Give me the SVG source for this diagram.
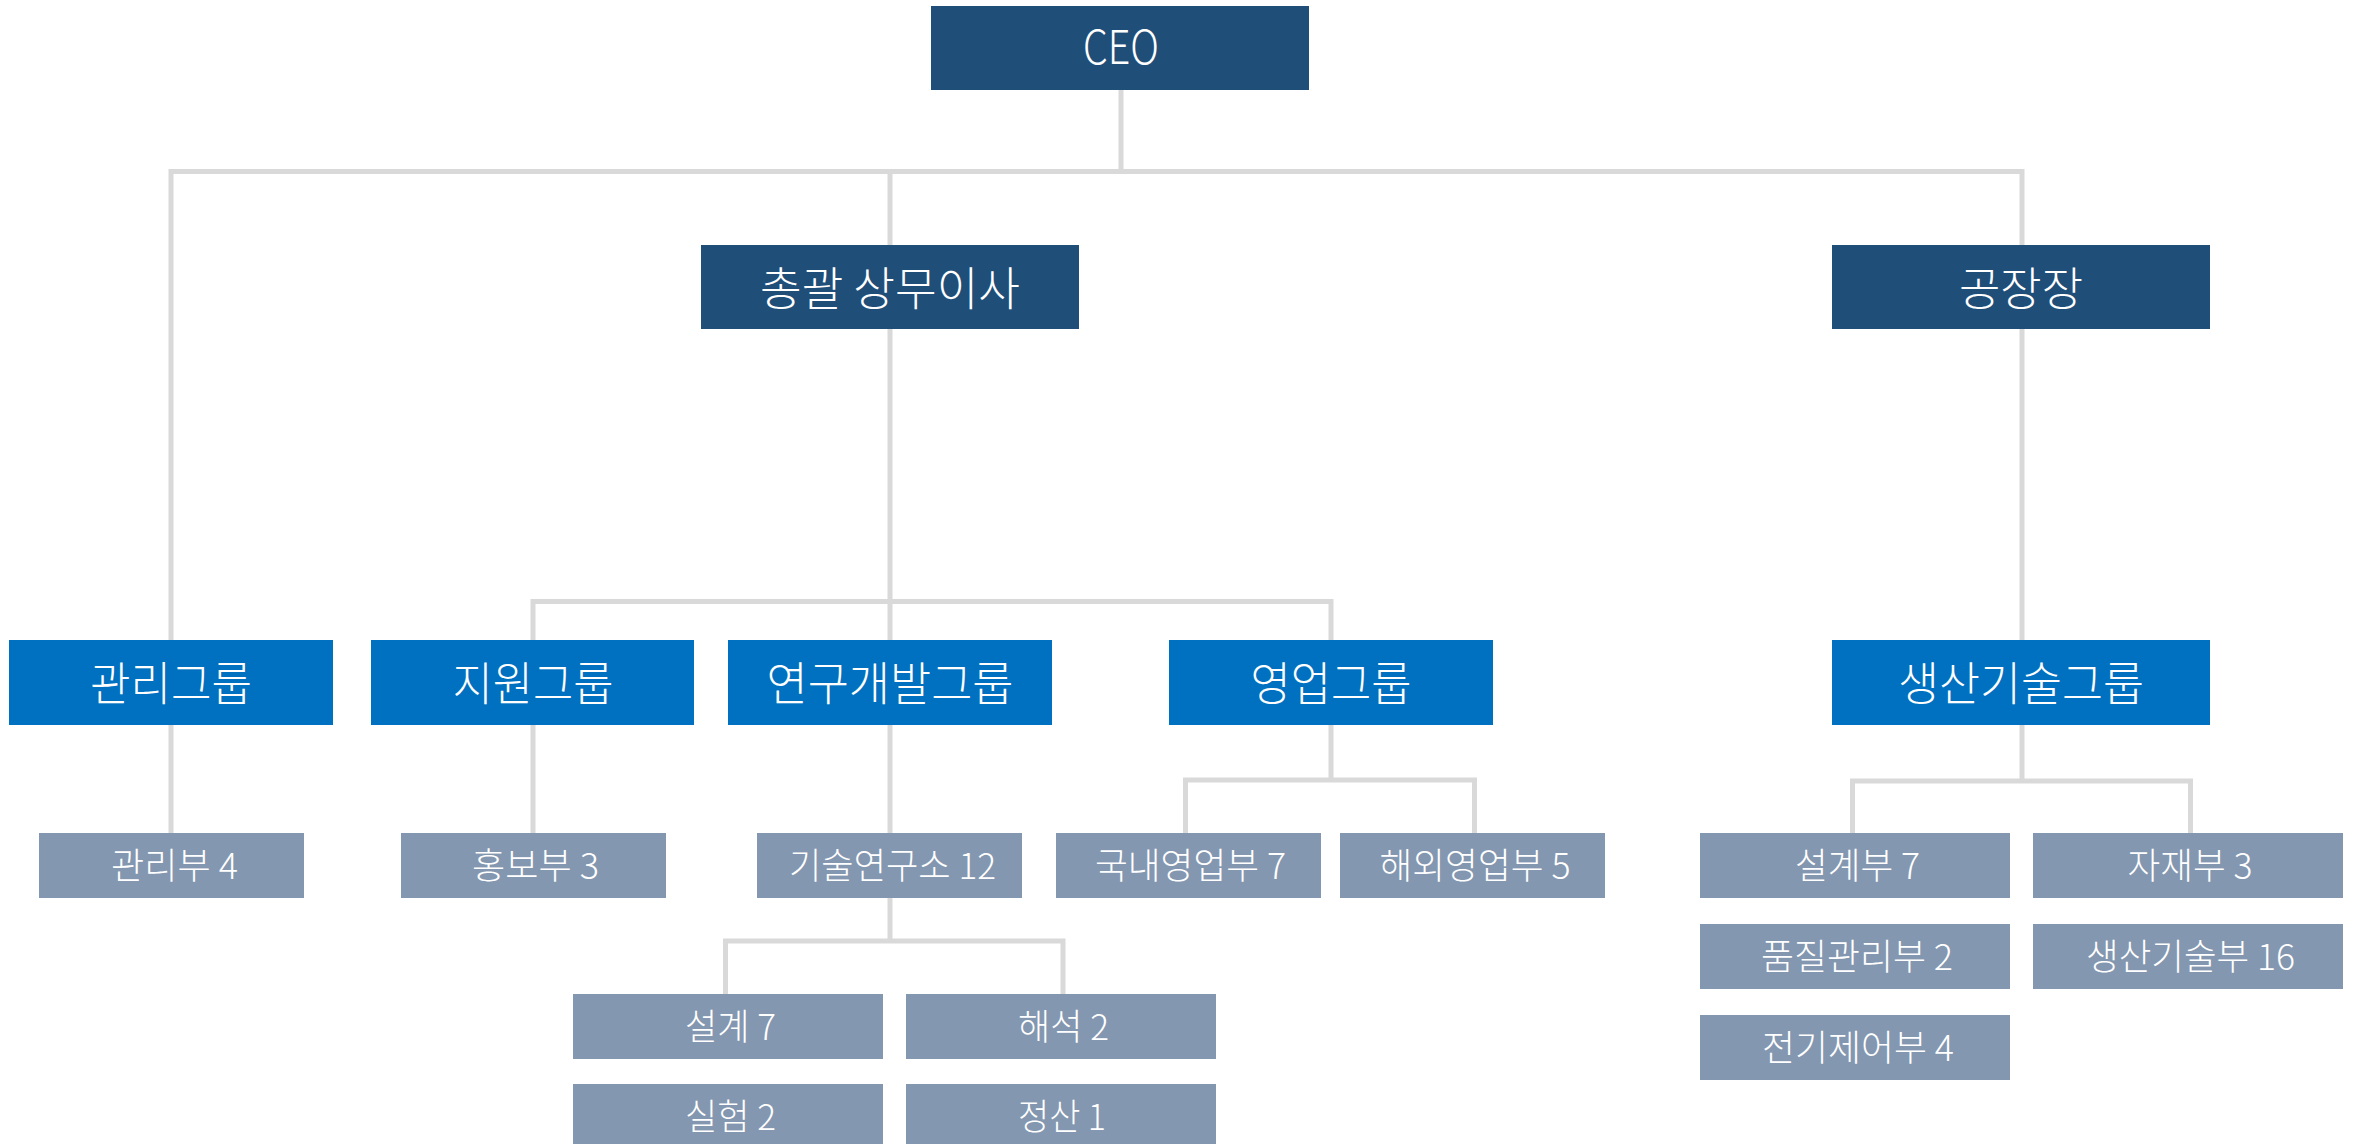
<svg xmlns="http://www.w3.org/2000/svg" width="2356" height="1144" viewBox="0 0 2356 1144">
<style>
.exec{fill:#1F4E79}
.grp{fill:#0070C0}
.dept{fill:#8497B0}
.lb{fill:#FFFFFF;font-family:"Noto Sans CJK KR","Noto Sans",sans-serif;text-anchor:middle;font-weight:300}
.big{font-size:46px}
.sm{font-size:36px}
.conn path{fill:none;stroke:#D9D9D9;stroke-width:5;stroke-linejoin:miter;stroke-linecap:butt}
</style>
<rect width="2356" height="1144" fill="#FFFFFF"/>
<g class="conn" id="connectors">
<path d="M1121 90 V171.5"/>
<path d="M171 640 V171.5 H2022 V245"/>
<path d="M890 171.5 V245"/>
<path d="M890 329 V640"/>
<path d="M533 640 V601.5 H1331 V640"/>
<path d="M2022 329 V640"/>
<path d="M171 725 V833"/>
<path d="M533 725 V833"/>
<path d="M890 725 V833"/>
<path d="M1331 725 V780"/>
<path d="M1185.5 833 V780 H1474.5 V833"/>
<path d="M890 898 V941"/>
<path d="M725.5 994 V941 H1063 V994"/>
<path d="M2022 725 V781"/>
<path d="M1852.5 833 V781 H2190.5 V833"/>
</g>
<g id="ceo"><rect class="exec" x="931" y="6" width="378" height="84"/><text class="lb big" x="1121" y="64" textLength="76" lengthAdjust="spacingAndGlyphs">CEO</text></g>
<g id="gm"><rect class="exec" x="701" y="245" width="378" height="84"/><text class="lb big" x="890" y="304.5" textLength="260" lengthAdjust="spacingAndGlyphs">총괄 상무이사</text></g>
<g id="plant"><rect class="exec" x="1832" y="245" width="378" height="84"/><text class="lb big" x="2021" y="304.5" textLength="124" lengthAdjust="spacingAndGlyphs">공장장</text></g>
<g id="g-admin"><rect class="grp" x="9" y="640" width="324" height="85"/><text class="lb big" x="171" y="700" textLength="162" lengthAdjust="spacingAndGlyphs">관리그룹</text></g>
<g id="g-support"><rect class="grp" x="371" y="640" width="323" height="85"/><text class="lb big" x="533" y="700" textLength="161" lengthAdjust="spacingAndGlyphs">지원그룹</text></g>
<g id="g-rnd"><rect class="grp" x="728" y="640" width="324" height="85"/><text class="lb big" x="890" y="700" textLength="247" lengthAdjust="spacingAndGlyphs">연구개발그룹</text></g>
<g id="g-sales"><rect class="grp" x="1169" y="640" width="324" height="85"/><text class="lb big" x="1331" y="700" textLength="161" lengthAdjust="spacingAndGlyphs">영업그룹</text></g>
<g id="g-prod"><rect class="grp" x="1832" y="640" width="378" height="85"/><text class="lb big" x="2021" y="700" textLength="246" lengthAdjust="spacingAndGlyphs">생산기술그룹</text></g>
<g id="d-admin"><rect class="dept" x="39" y="833" width="265" height="65"/><text class="lb sm" x="174.5" y="879" textLength="127" lengthAdjust="spacingAndGlyphs">관리부 4</text></g>
<g id="d-pr"><rect class="dept" x="401" y="833" width="265" height="65"/><text class="lb sm" x="535.5" y="879" textLength="127" lengthAdjust="spacingAndGlyphs">홍보부 3</text></g>
<g id="d-lab"><rect class="dept" x="757" y="833" width="265" height="65"/><text class="lb sm" x="892.5" y="879" textLength="207" lengthAdjust="spacingAndGlyphs">기술연구소 12</text></g>
<g id="d-dom"><rect class="dept" x="1056" y="833" width="265" height="65"/><text class="lb sm" x="1190.5" y="879" textLength="191" lengthAdjust="spacingAndGlyphs">국내영업부 7</text></g>
<g id="d-ovs"><rect class="dept" x="1340" y="833" width="265" height="65"/><text class="lb sm" x="1475" y="879" textLength="191" lengthAdjust="spacingAndGlyphs">해외영업부 5</text></g>
<g id="t-design"><rect class="dept" x="573" y="994" width="310" height="65"/><text class="lb sm" x="730.5" y="1040" textLength="91" lengthAdjust="spacingAndGlyphs">설계 7</text></g>
<g id="t-analysis"><rect class="dept" x="906" y="994" width="310" height="65"/><text class="lb sm" x="1063.5" y="1040" textLength="91" lengthAdjust="spacingAndGlyphs">해석 2</text></g>
<g id="t-test"><rect class="dept" x="573" y="1084" width="310" height="65"/><text class="lb sm" x="730.5" y="1130" textLength="91" lengthAdjust="spacingAndGlyphs">실험 2</text></g>
<g id="t-settle"><rect class="dept" x="906" y="1084" width="310" height="65"/><text class="lb sm" x="1062" y="1130" textLength="88" lengthAdjust="spacingAndGlyphs">정산 1</text></g>
<g id="p-design"><rect class="dept" x="1700" y="833" width="310" height="65"/><text class="lb sm" x="1857.5" y="879" textLength="125" lengthAdjust="spacingAndGlyphs">설계부 7</text></g>
<g id="p-material"><rect class="dept" x="2033" y="833" width="310" height="65"/><text class="lb sm" x="2190" y="879" textLength="125" lengthAdjust="spacingAndGlyphs">자재부 3</text></g>
<g id="p-quality"><rect class="dept" x="1700" y="924" width="310" height="65"/><text class="lb sm" x="1857" y="970" textLength="192" lengthAdjust="spacingAndGlyphs">품질관리부 2</text></g>
<g id="p-prodtech"><rect class="dept" x="2033" y="924" width="310" height="65"/><text class="lb sm" x="2190.5" y="970" textLength="209" lengthAdjust="spacingAndGlyphs">생산기술부 16</text></g>
<g id="p-elec"><rect class="dept" x="1700" y="1015" width="310" height="65"/><text class="lb sm" x="1858" y="1061" textLength="192" lengthAdjust="spacingAndGlyphs">전기제어부 4</text></g>
</svg>
